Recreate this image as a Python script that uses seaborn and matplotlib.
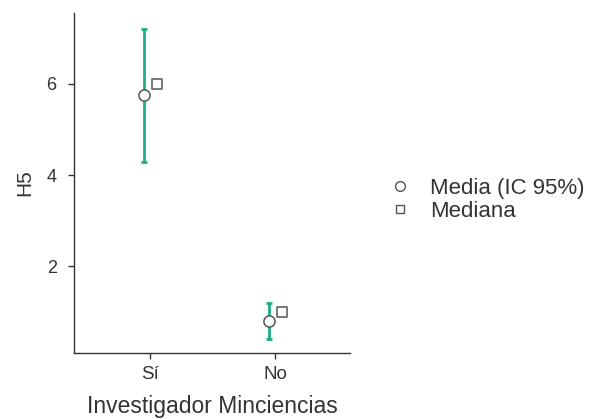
import matplotlib
matplotlib.use("Agg")
import matplotlib.pyplot as plt
import seaborn as sns
import pandas as pd
from matplotlib.lines import Line2D

categories = ["Sí", "No"]
means = [5.75, 0.81]
ci_low = [4.28, 0.41]
ci_high = [7.21, 1.20]
medians = [6.0, 1.0]

sns.set_theme(style="ticks")
plt.rcParams['font.family'] = ['Liberation Sans', 'DejaVu Sans']

fig = plt.figure(figsize=(5.98, 4.19), dpi=100)
ax = fig.add_axes([74/598, 1 - 353/419, (350-74)/598, (353-13)/419])

xpos = [1, 2]
off = 0.052
df = pd.DataFrame({"x": [p - off for p in xpos], "mean": means})
dfm = pd.DataFrame({"x": [p + off for p in xpos], "median": medians})

green = "#1fae88"
for x, lo, hi in zip(df["x"], ci_low, ci_high):
    ax.errorbar([x], [(lo + hi) / 2], yerr=[[(hi - lo) / 2], [(hi - lo) / 2]],
                fmt="none", ecolor=green, elinewidth=2, capsize=2.4, capthick=2, zorder=2)

sns.scatterplot(data=df, x="x", y="mean", ax=ax, marker="o", s=65,
                facecolor="white", edgecolor="#555555", linewidth=1.1, zorder=3)
sns.scatterplot(data=dfm, x="x", y="median", ax=ax, marker="s", s=52,
                facecolor="white", edgecolor="#555555", linewidth=1.1, zorder=3)

ax.set_xlim(0.392, 2.6)
ax.set_ylim(0.1, 7.55)
ax.set_xticks(xpos)
ax.set_xticklabels(categories)
ax.set_yticks([2, 4, 6])
ax.set_xlabel("Investigador Minciencias", fontsize=16.5, color="#333333")
ax.xaxis.label.set_verticalalignment("baseline")
ax.xaxis.set_label_coords(0.5, (353 - 413) / 340)
ax.set_ylabel("H5", fontsize=15, color="#333333")
ax.yaxis.label.set_verticalalignment("center")
ax.yaxis.set_label_coords((25 - 74) / 276, 0.5)
ax.tick_params(axis="x", labelsize=13.5, colors="#333333", length=4.5, width=1, pad=5)
ax.tick_params(axis="y", labelsize=13, colors="#333333", length=4.5, width=1, pad=8)
for s in ["top", "right"]:
    ax.spines[s].set_visible(False)
for s in ["left", "bottom"]:
    ax.spines[s].set_color("#333333")
    ax.spines[s].set_linewidth(1)

handles = [
    Line2D([], [], marker="o", linestyle="none", markersize=7, markerfacecolor="white",
           markeredgecolor="#555555", markeredgewidth=1.0, label="Media (IC 95%)"),
    Line2D([], [], marker="s", linestyle="none", markersize=6, markerfacecolor="white",
           markeredgecolor="#555555", markeredgewidth=1.0, label="Mediana"),
]
fig.legend(handles=handles, loc="center left", bbox_to_anchor=(391.5/598, 1 - 200/419),
           frameon=False, fontsize=16, handletextpad=0.95, labelspacing=0.08,
           handlelength=0.8, borderpad=0, borderaxespad=0, labelcolor="#333333")

fig.savefig("out.png", dpi=100)
